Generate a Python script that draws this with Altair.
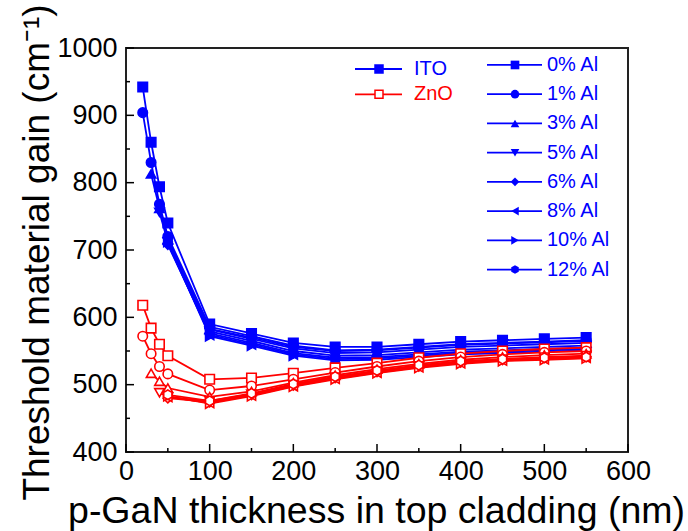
import altair as alt
import pandas as pd

# Thickness of the p-GaN top cladding (nm)
thickness = [20, 30, 40, 50, 100, 150, 200, 250, 300, 350, 400, 450, 500, 550]

al_labels = ["0% Al", "1% Al", "3% Al", "5% Al", "6% Al", "8% Al", "10% Al", "12% Al"]
materials = ["ITO", "ZnO"]

# Threshold material gain (cm^-1), ITO top contact; series for higher Al start at thicker layers
ito_al0 = [942, 860, 794, 740, 590, 576, 562, 556, 556, 560, 564, 566, 568, 570]
ito_al1 = [904, 830, 768, 720, 586, 572, 558, 551, 552, 556, 560, 562, 564, 566]
ito_al3 = [813, 762, 716, 582, 568, 554, 547, 548, 552, 556, 558, 560, 562]
ito_al5 = [756, 712, 579, 565, 550, 543, 544, 548, 552, 554, 556, 558]
ito_al6 = [708, 576, 562, 547, 540, 541, 545, 549, 551, 553, 555]
ito_al8 = [710, 574, 560, 545, 538, 539, 543, 547, 549, 551, 553]
ito_al10 = [712, 572, 558, 543, 536, 537, 541, 545, 547, 549, 551]
ito_al12 = [715, 583, 570, 556, 550, 551, 555, 559, 561, 563, 565]

# Threshold material gain (cm^-1), ZnO top contact
zno_al0 = [618, 584, 560, 543, 508, 510, 517, 525, 532, 540, 546, 550, 553, 555]
zno_al1 = [572, 546, 527, 516, 492, 498, 508, 518, 527, 535, 541, 545, 548, 550]
zno_al3 = [517, 505, 495, 482, 490, 503, 514, 523, 531, 537, 541, 544, 546]
zno_al5 = [488, 481, 476, 486, 500, 511, 520, 528, 534, 538, 541, 543]
zno_al6 = [480, 474, 485, 499, 510, 519, 527, 533, 537, 540, 542]
zno_al8 = [482, 473, 484, 498, 509, 518, 526, 532, 536, 538, 540]
zno_al10 = [483, 472, 483, 497, 508, 517, 525, 531, 535, 537, 539]
zno_al12 = [485, 476, 487, 501, 512, 521, 529, 535, 538, 540, 541]

ito_series = [ito_al0, ito_al1, ito_al3, ito_al5, ito_al6, ito_al8, ito_al10, ito_al12]
zno_series = [zno_al0, zno_al1, zno_al3, zno_al5, zno_al6, zno_al8, zno_al10, zno_al12]

y_major = [400, 500, 600, 700, 800, 900, 1000]
y_minor = [450, 550, 650, 750, 850, 950]
x_major = [0, 100, 200, 300, 400, 500, 600]
x_minor = [50, 150, 250, 350, 450, 550]

BLUE = "#0000ff"
RED = "#ff0000"
FONT = "Liberation Sans"
HEXAGON = "M0,-1L0.866,-0.5L0.866,0.5L0,1L-0.866,0.5L-0.866,-0.5Z"
SHAPES = ["square", "circle", "triangle-up", "triangle-down", "diamond",
          "triangle-left", "triangle-right", HEXAGON]

rows = []
for mat, group in zip(materials, [ito_series, zno_series]):
    for label, values in zip(al_labels, group):
        xs = thickness[len(thickness) - len(values):]
        for t, g in zip(xs, values):
            rows.append({"material": mat, "al": label, "t": t, "gain": g})
df = pd.DataFrame(rows)

x_scale = alt.Scale(domain=[0, 600], nice=False, zero=False)
y_scale = alt.Scale(domain=[400, 1000], nice=False, zero=False)
stroke_scale = alt.Scale(domain=materials, range=[BLUE, RED])
fill_scale = alt.Scale(domain=materials, range=[BLUE, "#ffffff"])
shape_scale = alt.Scale(domain=al_labels, range=SHAPES)

x_axis = alt.Axis(values=x_major, title="p-GaN thickness in top cladding (nm)",
                  labelPadding=6, titleX=250, titleY=70, titleFontSize=37.5,
                  titleBaseline="alphabetic")
y_axis = alt.Axis(values=y_major, title="Threshold material gain (cm⁻¹)",
                  labelPadding=9, titleAngle=-90, titleX=-89, titleY=204,
                  titleFontSize=37, titleBaseline="middle")


def X(field):
    return alt.X(field, scale=x_scale, axis=x_axis)


def Y(field):
    return alt.Y(field, scale=y_scale, axis=y_axis)


base = alt.Chart(df)


def series_layers(mat):
    sub = base.transform_filter(alt.datum.material == mat)
    line = sub.mark_line(strokeWidth=1.8).encode(
        x=X("t:Q"), y=Y("gain:Q"),
        stroke=alt.Stroke("material:N", scale=stroke_scale, legend=None),
        detail="al:N",
    )
    pts = sub.mark_point(size=90, strokeWidth=1.6, opacity=1).encode(
        x=X("t:Q"), y=Y("gain:Q"),
        stroke=alt.Stroke("material:N", scale=stroke_scale, legend=None),
        fill=alt.Fill("material:N", scale=fill_scale, legend=None),
        shape=alt.Shape("al:N", scale=shape_scale, legend=None),
    )
    return [line, pts]


# Inward-pointing axis ticks
def tick_layer(values, channel, length):
    tdf = pd.DataFrame({"v": values})
    if channel == "y":
        enc = dict(y=Y("v:Q"), x=alt.value(0), x2=alt.value(length))
    else:
        enc = dict(x=X("v:Q"), y=alt.value(404), y2=alt.value(404 - length))
    return alt.Chart(tdf).mark_rule(color="black", strokeWidth=1.5).encode(**enc)


ticks = [tick_layer(y_major, "y", 8), tick_layer(y_minor, "y", 4),
         tick_layer(x_major, "x", 8), tick_layer(x_minor, "x", 4)]

# Legend rows are placed in gain units so that they share the plot's y scale
mat_leg = pd.DataFrame({"material": materials, "idx": [0, 1]})
mat_base = alt.Chart(mat_leg).transform_calculate(ly="968.8 - datum.idx * 37.6")
mat_rule = mat_base.mark_rule(strokeWidth=1.8).encode(
    x=alt.value(229), x2=alt.value(276), y=Y("ly:Q"),
    stroke=alt.Stroke("material:N", scale=stroke_scale, legend=None))
mat_sym = mat_base.mark_point(shape="square", size=64, strokeWidth=1.5, opacity=1).encode(
    x=alt.value(253), y=Y("ly:Q"),
    stroke=alt.Stroke("material:N", scale=stroke_scale, legend=None),
    fill=alt.Fill("material:N", scale=fill_scale, legend=None))
mat_txt = mat_base.mark_text(align="left", baseline="middle", font=FONT, fontSize=20).encode(
    x=alt.value(288), y=Y("ly:Q"), text="material:N",
    color=alt.Color("material:N", scale=stroke_scale, legend=None))

al_leg = pd.DataFrame({"al": al_labels, "idx": list(range(len(al_labels)))})
al_base = alt.Chart(al_leg).transform_calculate(ly="974.8 - datum.idx * 43.4")
al_rule = al_base.mark_rule(strokeWidth=1.8, color=BLUE).encode(
    x=alt.value(361), x2=alt.value(416), y=Y("ly:Q"))
al_sym = al_base.mark_point(size=75, filled=True, color=BLUE, opacity=1).encode(
    x=alt.value(389), y=Y("ly:Q"),
    shape=alt.Shape("al:N", scale=shape_scale, legend=None))
al_txt = al_base.mark_text(align="left", baseline="middle", font=FONT, fontSize=20,
                           color=BLUE).encode(
    x=alt.value(421), y=Y("ly:Q"), text="al:N")

layers = (series_layers("ITO") + series_layers("ZnO") + ticks +
          [mat_rule, mat_sym, mat_txt, al_rule, al_sym, al_txt])

chart = alt.layer(*layers).properties(
    width=502, height=404,
    padding={"left": 126, "top": 48, "right": 60, "bottom": 79},
    autosize=alt.AutoSizeParams(type="none"),
    background="white",
).configure_view(
    stroke="#222222", strokeWidth=2
).configure_axis(
    format="d", labelFont=FONT, labelFontSize=27, labelColor="black",
    ticks=False, domain=False, grid=False, labelFlush=False, labelOverlap=False,
    titleFont=FONT, titleFontWeight="normal", titleColor="black",
    titleAlign="center",
)

chart.save("out.html", embed_options={"renderer": "svg", "actions": False})
